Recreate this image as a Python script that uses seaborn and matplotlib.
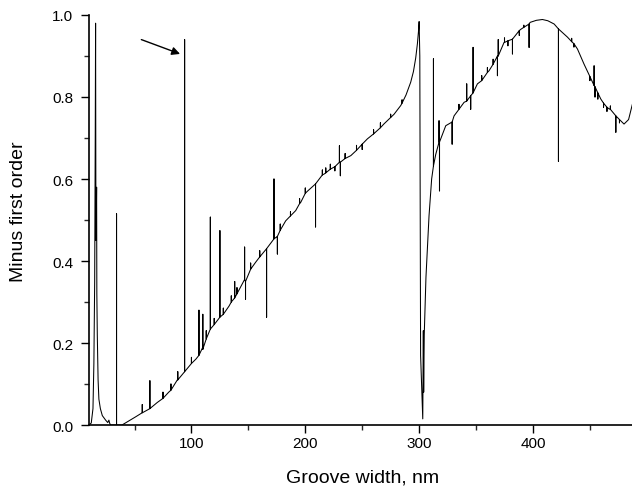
import numpy as np
import pandas as pd
import matplotlib
matplotlib.use("Agg")
import matplotlib.pyplot as plt
from matplotlib.ticker import MultipleLocator
import seaborn as sns

# ---- data ----
curve_x = [10.0, 12.0, 13.5, 14.3, 15.0, 15.5, 15.8, 16.1, 16.5, 16.7, 16.9, 17.3, 18.0,
           18.7, 20.0, 21.7, 24.6, 26.5, 27.5, 28.2, 29.0, 39.0, 45.0, 51.0, 57.0, 63.5,
           70.0, 80.0, 87.6, 94.0, 100.0, 104.0, 110.0, 116.6, 125.0, 133.0, 140.0, 146.7,
           156.4, 166.0, 172.5, 182.8, 191.6, 196.0, 201.8, 209.0, 216.5, 222.0, 230.0,
           240.0, 254.6, 269.0, 278.0, 283.8, 288.5, 292.6, 295.0, 297.0, 298.5, 299.5,
           300.0, 300.6, 301.3, 302.6, 303.2,
           303.7, 304.0, 304.5, 306.0, 308.7, 311.0, 312.6, 314.6, 317.5, 323.4, 330.7,
           339.5, 345.3, 351.2, 361.4, 368.8, 374.6, 382.0, 389.3, 397.5, 403.0, 408.3,
           413.0, 418.6, 422.4, 430.3, 439.1, 444.9, 453.7, 459.6, 466.9, 472.8, 480.0,
           484.0, 487.4]
curve_y = [0.0, 0.005, 0.04, 0.15, 0.35, 0.7, 0.98, 0.45, 0.52, 0.58, 0.32, 0.22, 0.11,
           0.063, 0.04, 0.023, 0.012, 0.006, 0.012, 0.004, 0.0, 0.0, 0.01, 0.02, 0.03, 0.04,
           0.055, 0.08, 0.11, 0.13, 0.15, 0.161, 0.19, 0.234, 0.263, 0.29, 0.32, 0.355,
           0.397, 0.43, 0.454, 0.498, 0.523, 0.543, 0.570, 0.588, 0.612, 0.624, 0.641,
           0.657, 0.698, 0.734, 0.758, 0.779, 0.805, 0.836, 0.862, 0.895, 0.930, 0.962,
           0.984, 0.90, 0.17, 0.06, 0.015,
           0.23, 0.08, 0.22, 0.36, 0.51, 0.60, 0.632, 0.66, 0.69, 0.73, 0.754,
           0.787, 0.803, 0.832, 0.864, 0.90, 0.933, 0.941, 0.965, 0.982, 0.987, 0.989,
           0.986, 0.978, 0.966, 0.946, 0.917, 0.880, 0.828, 0.795, 0.771, 0.754, 0.734,
           0.745, 0.783]

# narrow spikes: position, curve level, spike tip
spike_x = [34.2, 56.8, 63.5, 75.0, 82.0, 88.0, 94.0, 100.0, 106.6, 110.0, 113.0, 116.6,
           120.0, 125.0, 128.0, 135.0, 138.0, 140.0, 146.7, 147.5, 152.0, 160.0, 166.0,
           172.5, 175.5, 178.0, 187.0, 195.0, 200.0, 209.0, 215.0, 218.0, 222.0, 226.0,
           230.0, 230.8, 235.0, 245.0, 250.0, 260.0, 266.0, 275.0, 285.0, 312.6, 317.5,
           317.9, 329.0, 335.0, 341.8, 345.3, 347.4, 355.0, 360.0, 365.0, 368.8, 369.5,
           375.0, 378.0, 382.0, 388.0, 392.0, 396.6, 422.4, 434.0, 436.0, 450.0, 453.7,
           454.5, 457.0, 462.0, 465.0, 468.0, 472.8, 476.0]
spike_base = [0.0, 0.03, 0.04, 0.065, 0.085, 0.11, 0.13, 0.15, 0.17, 0.185, 0.21, 0.234,
              0.245, 0.263, 0.27, 0.30, 0.31, 0.32, 0.355, 0.35, 0.38, 0.41, 0.43,
              0.454, 0.46, 0.475, 0.51, 0.54, 0.565, 0.588, 0.61, 0.615, 0.624, 0.63,
              0.641, 0.641, 0.65, 0.67, 0.685, 0.71, 0.725, 0.75, 0.785, 0.632, 0.69,
              0.69, 0.739, 0.77, 0.79, 0.803, 0.81, 0.84, 0.86, 0.88, 0.90, 0.90,
              0.933, 0.937, 0.941, 0.962, 0.97, 0.978, 0.966, 0.935, 0.93, 0.85, 0.828,
              0.825, 0.81, 0.785, 0.775, 0.77, 0.754, 0.745]
spike_tip = [0.515, 0.05, 0.108, 0.08, 0.10, 0.13, 0.94, 0.165, 0.28, 0.27, 0.23, 0.507,
             0.26, 0.474, 0.285, 0.315, 0.35, 0.335, 0.434, 0.307, 0.395, 0.425, 0.263,
             0.60, 0.417, 0.49, 0.52, 0.552, 0.578, 0.483, 0.622, 0.627, 0.636, 0.62,
             0.681, 0.608, 0.662, 0.682, 0.672, 0.72, 0.737, 0.758, 0.793, 0.893, 0.742,
             0.571, 0.685, 0.782, 0.832, 0.77, 0.921, 0.852, 0.872, 0.892, 0.852, 0.94,
             0.944, 0.925, 0.905, 0.95, 0.975, 0.921, 0.643, 0.943, 0.922, 0.84, 0.876,
             0.80, 0.795, 0.775, 0.765, 0.778, 0.714, 0.737]

x_ticks = [100, 200, 300, 400]
y_ticks = [0.0, 0.2, 0.4, 0.6, 0.8, 1.0]

# ---- build one polyline (curve + spikes) ----
rows = [(x, 0, y) for x, y in zip(curve_x, curve_y)]
for sx, sb, st in zip(spike_x, spike_base, spike_tip):
    rows += [(sx, 1, sb), (sx, 2, st), (sx, 3, sb)]
df = pd.DataFrame(rows, columns=["x", "k", "y"]).sort_values(["x", "k"], kind="stable")

sns.set_theme(style="ticks")
plt.rcParams["font.family"] = ["Liberation Sans", "DejaVu Sans"]

fig = plt.figure(figsize=(6.32, 4.89), dpi=100)
ax = fig.add_axes([0.1408, 0.1288, 0.8592, 0.8385])

sns.lineplot(data=df, x="x", y="y", sort=False, estimator=None,
             color="black", linewidth=0.75, ax=ax)

ax.annotate("", xy=(90, 0.905), xytext=(56, 0.94),
            arrowprops=dict(arrowstyle="-|>", color="black", lw=1.0,
                            mutation_scale=12, shrinkA=0, shrinkB=0))

ax.set_xlim(10, 487)
ax.set_ylim(0, 1.0)
ax.set_xticks(x_ticks)
ax.set_yticks(y_ticks)
ax.set_yticklabels([f"{v:.1f}" for v in y_ticks])
ax.xaxis.set_minor_locator(MultipleLocator(50))
ax.yaxis.set_minor_locator(MultipleLocator(0.1))
ax.tick_params(axis="both", which="major", direction="out", length=5.5, width=1.0,
               labelsize=11, colors="black")
ax.tick_params(axis="both", which="minor", direction="out", length=3.5, width=1.0)
ax.tick_params(axis="x", which="major", pad=2.5)
ax.tick_params(axis="y", which="major", pad=6)

for side in ["top", "right"]:
    ax.spines[side].set_visible(False)
for side in ["left", "bottom"]:
    ax.spines[side].set_linewidth(1.2)
    ax.spines[side].set_color("black")

ax.set_xlabel("Groove width, nm", fontsize=14, color="black")
ax.set_ylabel("Minus first order", fontsize=14, color="black")
ax.xaxis.label.set_va("center")
ax.yaxis.label.set_va("center")
ax.xaxis.set_label_coords(0.503, -0.127)
ax.yaxis.set_label_coords(-0.129, 0.522)

fig.savefig("out.png", dpi=100)
